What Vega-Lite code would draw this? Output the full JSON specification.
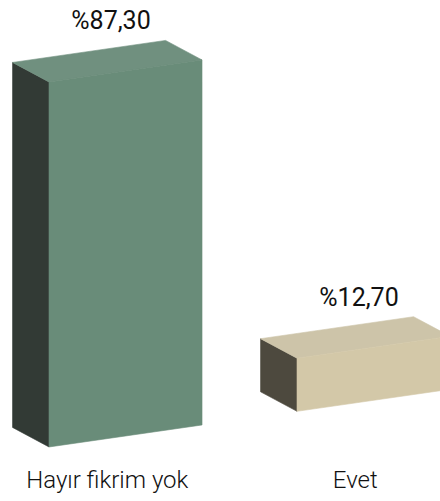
{
  "$schema": "https://vega.github.io/schema/vega-lite/v6.json",
  "width": 440,
  "height": 501,
  "padding": 0,
  "autosize": {"type": "none"},
  "background": "white",
  "config": {"view": {"stroke": null}},
  "data": {"values": [
    {"category": "Hayır fikrim yok", "value": 87.3},
    {"category": "Evet", "value": 12.7}
  ]},
  "transform": [
    {"window": [{"op": "row_number", "as": "rn"}]},
    {"calculate": "datum.rn - 1", "as": "xl"}
  ],
  "layer": [
    {
      "transform": [
        {"calculate": "[datum.xl - 0.147, datum.xl]", "as": "px"},
        {"calculate": "[5.92, 0]", "as": "dv"},
        {"flatten": ["px", "dv"]},
        {"calculate": "datum.value + 8.53 * datum.px + datum.dv", "as": "ytop"},
        {"calculate": "8.53 * datum.px + datum.dv", "as": "ybot"}
      ],
      "mark": {"type": "area", "clip": true, "strokeWidth": 0.6},
      "encoding": {
        "x": {"field": "px", "type": "quantitative", "axis": null, "scale": {"domain": [-0.1976, 1.5766], "nice": false, "zero": false}},
        "y": {"field": "ytop", "type": "quantitative", "axis": null, "scale": {"domain": [-12.92, 106.9], "nice": false, "zero": false}},
        "y2": {"field": "ybot"},
        "color": {"field": "category", "type": "nominal", "legend": null, "scale": {"domain": ["Hayır fikrim yok", "Evet"], "range": ["#323a35", "#4d493e"]}},
        "stroke": {"field": "category", "type": "nominal", "legend": null, "scale": {"domain": ["Hayır fikrim yok", "Evet"], "range": ["#323a35", "#4d493e"]}}
      }
    },
    {
      "transform": [
        {"calculate": "[datum.xl - 0.147, datum.xl, datum.xl + 0.617 - 0.147, datum.xl + 0.617]", "as": "px"},
        {"calculate": "[5.92, 5.92, 5.92, 0]", "as": "tv"},
        {"calculate": "[5.92, 0, 0, 0]", "as": "bv"},
        {"flatten": ["px", "tv", "bv"]},
        {"calculate": "datum.value + 8.53 * datum.px + datum.tv", "as": "ytop"},
        {"calculate": "datum.value + 8.53 * datum.px + datum.bv", "as": "ybot"}
      ],
      "mark": {"type": "area", "clip": true, "strokeWidth": 0.6},
      "encoding": {
        "x": {"field": "px", "type": "quantitative"},
        "y": {"field": "ytop", "type": "quantitative"},
        "y2": {"field": "ybot"},
        "color": {"field": "category", "type": "nominal", "legend": null, "scale": {"domain": ["Hayır fikrim yok", "Evet"], "range": ["#70907f", "#cdc4a9"]}},
        "stroke": {"field": "category", "type": "nominal", "legend": null, "scale": {"domain": ["Hayır fikrim yok", "Evet"], "range": ["#70907f", "#cdc4a9"]}}
      }
    },
    {
      "transform": [
        {"calculate": "[datum.xl, datum.xl + 0.617]", "as": "px"},
        {"flatten": ["px"]},
        {"calculate": "datum.value + 8.53 * datum.px", "as": "ytop"},
        {"calculate": "8.53 * datum.px", "as": "ybot"}
      ],
      "mark": {"type": "area", "clip": true, "strokeWidth": 0.6},
      "encoding": {
        "x": {"field": "px", "type": "quantitative"},
        "y": {"field": "ytop", "type": "quantitative"},
        "y2": {"field": "ybot"},
        "color": {"field": "category", "type": "nominal", "legend": null, "scale": {"domain": ["Hayır fikrim yok", "Evet"], "range": ["#698c79", "#d3c8a8"]}},
        "stroke": {"field": "category", "type": "nominal", "legend": null, "scale": {"domain": ["Hayır fikrim yok", "Evet"], "range": ["#698c79", "#d3c8a8"]}}
      }
    },
    {
      "transform": [
        {"calculate": "datum.xl + 0.25", "as": "lx"},
        {"calculate": "datum.value + 8.53 * datum.lx + 5.92", "as": "ly"},
        {"calculate": "'%' + replace(format(datum.value, '.2f'), '.', ',')", "as": "lab"}
      ],
      "mark": {"type": "text", "font": "Roboto", "fontSize": 25, "fontWeight": 400, "color": "#111111", "baseline": "alphabetic", "align": "center", "dy": -19},
      "encoding": {
        "x": {"field": "lx", "type": "quantitative"},
        "y": {"field": "ly", "type": "quantitative"},
        "text": {"field": "lab"}
      }
    },
    {
      "transform": [
        {"calculate": "datum.xl + 0.235", "as": "cx"}
      ],
      "mark": {"type": "text", "font": "Roboto", "fontSize": 24, "fontWeight": 300, "color": "#111111", "baseline": "alphabetic", "align": "center"},
      "encoding": {
        "x": {"field": "cx", "type": "quantitative"},
        "y": {"datum": -9.81, "type": "quantitative"},
        "text": {"field": "category"}
      }
    }
  ],
  "resolve": {"scale": {"color": "independent", "stroke": "independent"}}
}
